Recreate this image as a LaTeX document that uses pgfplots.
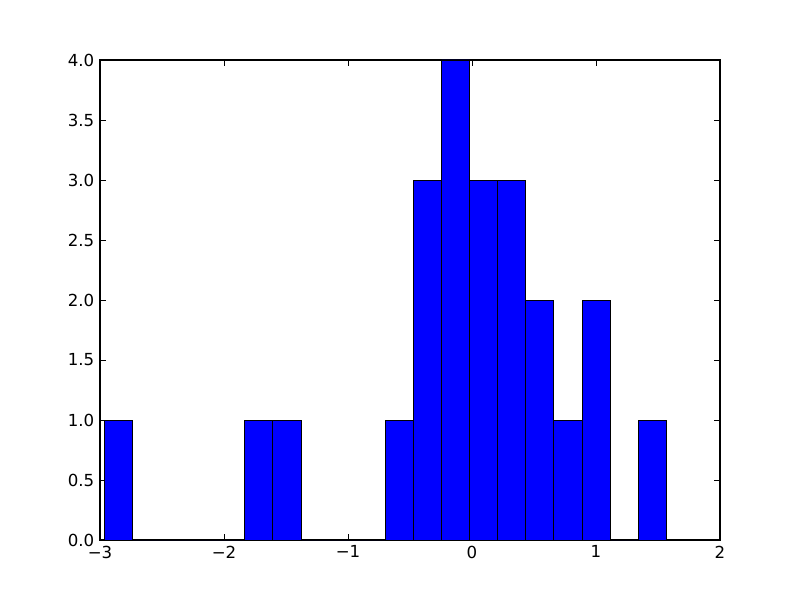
\documentclass[border=0pt]{standalone}
\usepackage{pgfplots}
\pgfplotsset{compat=1.18}
\usepackage{fontspec}
\setmainfont{DejaVu Sans}
\begin{document}
\fontsize{12}{14}\selectfont
\begin{tikzpicture}
\begin{axis}[
  scale only axis,
  width=6.2in, height=4.8in,
  xmin=-3, xmax=2, ymin=0, ymax=4,
  xtick={-3,-2,-1,0,1,2},
  xticklabels={−3,−2,−1,0,1,2},
  ytick={0,0.5,1,1.5,2,2.5,3,3.5,4},
  yticklabels={0.0,0.5,1.0,1.5,2.0,2.5,3.0,3.5,4.0},
  tick align=inside,
  major tick length=4pt,
  tick style={black, line width=0.5pt},
  axis line style={black, line width=0.8pt},
  ticklabel style={font=\fontsize{12}{14}\selectfont},
  clip=false,
]
\addplot[ybar, bar width=0.2266, bar shift=0pt, fill=blue, draw=black, line width=0.7pt] coordinates {
(-2.8517,1) (-2.6251,0) (-2.3985,0) (-2.1719,0) (-1.9453,0)
(-1.7187,1) (-1.4921,1) (-1.2655,0) (-1.0389,0) (-0.8123,0)
(-0.5857,1) (-0.3591,3) (-0.1325,4) (0.0941,3) (0.3207,3)
(0.5473,2) (0.7739,1) (1.0005,2) (1.2271,0) (1.4537,1)
};
\path[use as bounding box] (axis description cs:-0.16129,-0.125) rectangle (axis description cs:1.12903,1.125);
\end{axis}
\end{tikzpicture}
\end{document}
